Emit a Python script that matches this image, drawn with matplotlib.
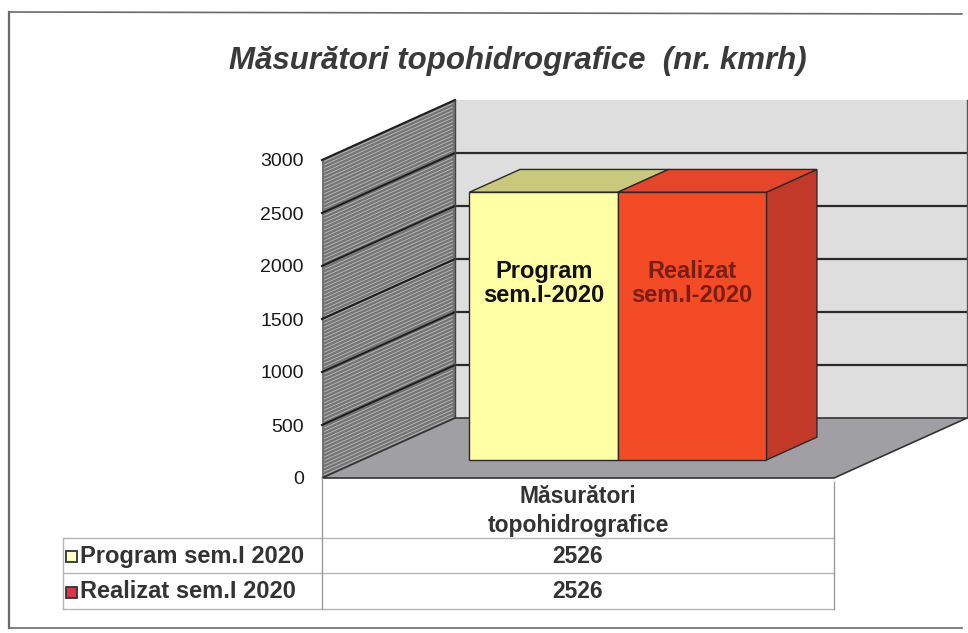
import matplotlib
matplotlib.use('Agg')
import matplotlib.pyplot as plt
from matplotlib.patches import Polygon, Rectangle
from matplotlib.lines import Line2D

# ---------------- data ----------------
title = "Măsurători topohidrografice  (nr. kmrh)"
category = "Măsurători\ntopohidrografice"
series_names = ["Program sem.I 2020", "Realizat sem.I 2020"]
bar_labels = ["Program\nsem.I-2020", "Realizat\nsem.I-2020"]
values = [2526, 2526]
y_ticks = [0, 500, 1000, 1500, 2000, 2500, 3000]

# ---------------- styles ----------------
front_colors = ["#FFFFA6", "#F24B26"]
top_colors = ["#C9C97E", "#E5452A"]
side_colors = ["#B8B870", "#C2392A"]
label_colors = ["#111111", "#7A1E14"]
key_colors = ["#FFFFC8", "#E0344E"]

plt.rcParams['font.family'] = ['Liberation Sans', 'DejaVu Sans']

W, H = 968, 633
fig = plt.figure(figsize=(W / 100, H / 100), dpi=100)
fig.patch.set_facecolor('white')

def fx(px):
    return px / W

def fy(py):
    return 1 - py / H

# front plane of the 3D plot
ax = fig.add_axes([fx(322), fy(478), fx(834) - fx(322), fy(160) - fy(478)])
ax.set_xlim(0, 1)
ax.set_ylim(0, 3000)
for s in ax.spines.values():
    s.set_visible(False)
ax.patch.set_visible(False)
ax.set_xticks([])
ax.set_yticks(y_ticks)
ax.tick_params(axis='y', length=0, pad=13, labelsize=14, labelcolor='#1a1a1a')

# depth offset expressed in data units
ax_w_px = 834 - 322
px_per_val = (478 - 160) / 3000
DDX = 133 / ax_w_px
DDY = 60 / px_per_val

def P(x, v, d):
    return (x + d * DDX, v + d * DDY)

def poly(pts, fc, ec='#2a2a2a', lw=1.0, z=1):
    ax.add_patch(Polygon(pts, closed=True, facecolor=fc, edgecolor=ec,
                         linewidth=lw, zorder=z, clip_on=False))

def line(p1, p2, c='#222222', lw=1.4, z=2, alpha=1.0):
    ax.add_line(Line2D([p1[0], p2[0]], [p1[1], p2[1]], color=c, lw=lw,
                       zorder=z, clip_on=False, alpha=alpha))

ymax = y_ticks[-1]
# back wall
poly([P(0, 0, 1), P(1, 0, 1), P(1, ymax, 1), P(0, ymax, 1)], '#DEDEDE', ec='none', z=1)
for t in y_ticks[1:-1]:
    line(P(0, t, 1), P(1, t, 1), c='#2a2a2a', lw=1.6, z=2)
line(P(1, 0, 1), P(1, ymax, 1), c='#555555', lw=1.0, z=2)

# left side wall (striped)
poly([P(0, 0, 0), P(0, 0, 1), P(0, ymax, 1), P(0, ymax, 0)], '#747474', ec='none', z=3)
v = 20
while v < ymax:
    line(P(0, v, 0.02), P(0, v, 0.98), c='#e0e0e0', lw=0.7, z=3.1, alpha=0.6)
    v += 34
for t in y_ticks[1:]:
    line(P(0, t, 0), P(0, t, 1), c='#1e1e1e', lw=1.5, z=3.2)
line(P(0, 0, 1), P(0, ymax, 1), c='#444444', lw=1.0, z=3.3)

# floor
poly([P(0, 0, 0), P(1, 0, 0), P(1, 0, 1), P(0, 0, 1)], '#A0A0A4', ec='#333333', lw=1.2, z=4)

# bars
n = len(values)
bar_w = 0.29
d0, d1 = 0.30, 0.68
for i, val in enumerate(values):
    x0 = 0.5 - n * bar_w / 2 + i * bar_w
    x1 = x0 + bar_w
    z = 5 + i
    poly([P(x1, 0, d0), P(x1, 0, d1), P(x1, val, d1), P(x1, val, d0)], side_colors[i], z=z)
    poly([P(x0, val, d0), P(x1, val, d0), P(x1, val, d1), P(x0, val, d1)], top_colors[i], z=z)
    poly([P(x0, 0, d0), P(x1, 0, d0), P(x1, val, d0), P(x0, val, d0)], front_colors[i], z=z)
    tx, ty = P((x0 + x1) / 2, val * 0.66, d0)
    ax.text(tx, ty, bar_labels[i], ha='center', va='center', fontsize=17,
            fontweight='bold', color=label_colors[i], zorder=10, linespacing=1.05)

# title
fig.text(fx(518), fy(61), title, ha='center', va='center', fontsize=22.5,
         fontweight='bold', style='italic', color='#3a3a3a')

# outer frame
frame_c = '#6a6a6a'
fig.add_artist(Line2D([fx(9), fx(9)], [fy(12), fy(628)], color=frame_c, lw=1.6))
fig.add_artist(Line2D([fx(9), fx(962)], [fy(12), fy(14)], color=frame_c, lw=1.2))
fig.add_artist(Line2D([fx(9), fx(962)], [fy(628), fy(628)], color=frame_c, lw=1.2))

# data table
tc = '#b5b5b5'
rows_y = [538, 573, 609]
for yy in rows_y:
    fig.add_artist(Line2D([fx(63), fx(834)], [fy(yy), fy(yy)], color=tc, lw=1.0))
fig.add_artist(Line2D([fx(63), fx(63)], [fy(538), fy(609)], color=tc, lw=1.0))
fig.add_artist(Line2D([fx(322), fx(322)], [fy(478), fy(609)], color='#9a9a9a', lw=1.0))
fig.add_artist(Line2D([fx(834), fx(834)], [fy(482), fy(609)], color='#9a9a9a', lw=1.0))

fig.text(fx(578), fy(511), category, ha='center', va='center', fontsize=16.5,
         fontweight='bold', color='#333333', linespacing=1.3)
for i, name in enumerate(series_names):
    yc = (rows_y[i] + rows_y[i + 1]) / 2 + 1
    fig.add_artist(Rectangle((fx(66), fy(yc + 5.5)), fx(11), 11 / H,
                             facecolor=key_colors[i], edgecolor='#333333', lw=1.3))
    fig.text(fx(80), fy(yc), name, ha='left', va='center', fontsize=17,
             fontweight='bold', color='#333333')
    fig.text(fx(578), fy(yc), f"{values[i]}", ha='center', va='center', fontsize=16.5,
             fontweight='bold', color='#333333')

fig.savefig('out.png', dpi=100, facecolor='white')
